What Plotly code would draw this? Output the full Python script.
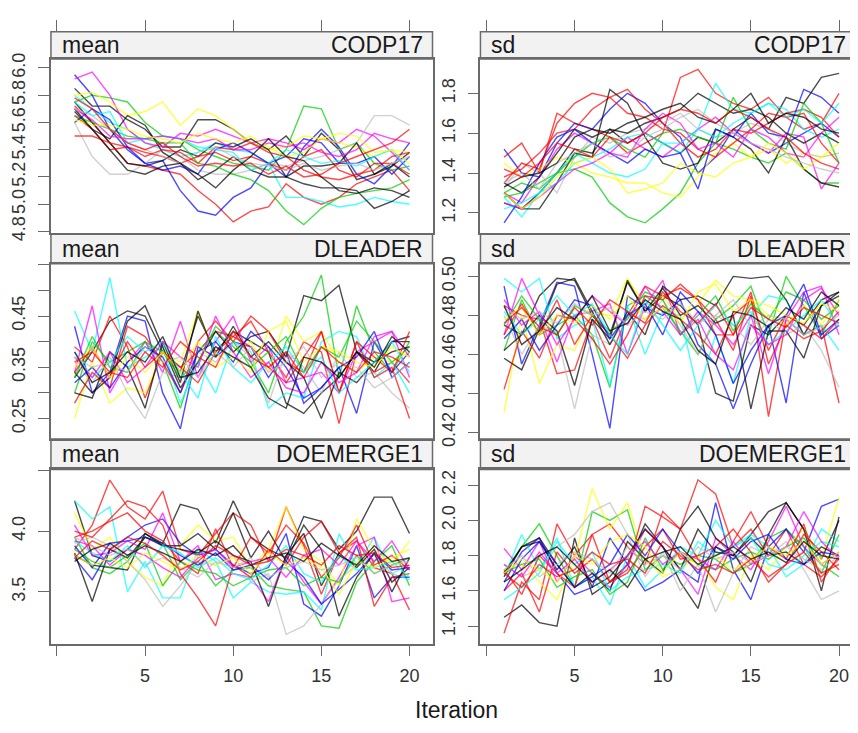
import plotly.graph_objects as go

# ---------------- data ----------------
ITER = list(range(1, 21))
X_TICKS = [0, 5, 10, 15, 20]
X_TICK_TEXT = ["", "5", "10", "15", "20"]

PALETTE = ["#000000", "#FF0000", "#00CD00", "#0000FF", "#00FFFF", "#FF00FF", "#FFFF00", "#BEBEBE"]
CHAIN_COLOR_INDEX = [0, 1, 2, 3, 4, 5, 6, 7, 0, 1, 0, 1, 2, 3, 4, 5, 6, 7, 0, 1]

STATS = ["mean", "sd"]
VARS = ["CODP17", "DLEADER", "DOEMERGE1"]

MEAN_CODP17 = [
    [5.85,5.72,5.72,5.62,5.55,5.42,5.42,5.62,5.62,5.55,5.45,5.40,5.50,5.35,5.52,5.40,5.18,5.22,5.30,5.20],
    [5.72,5.60,5.45,5.30,5.28,5.25,5.22,5.10,5.00,4.87,4.95,4.98,5.15,5.05,5.00,5.05,5.15,5.20,5.25,5.10],
    [5.75,5.80,5.78,5.75,5.60,5.50,5.48,5.40,5.35,5.30,5.28,5.25,5.40,5.72,5.70,5.40,5.45,5.30,5.25,5.28],
    [5.95,5.80,5.55,5.40,5.30,5.32,5.10,4.95,4.92,5.05,5.12,5.30,5.20,5.42,5.55,5.42,5.22,5.15,5.28,5.45],
    [5.80,5.70,5.60,5.55,5.45,5.40,5.35,5.38,5.45,5.40,5.38,5.30,5.05,5.05,5.02,4.98,5.00,5.05,5.02,5.00],
    [5.92,5.97,5.80,5.55,5.45,5.42,5.52,5.50,5.55,5.50,5.45,5.48,5.45,5.40,5.48,5.45,5.55,5.50,5.38,5.25],
    [5.80,5.82,5.75,5.65,5.68,5.75,5.58,5.70,5.65,5.55,5.45,5.40,5.42,5.50,5.48,5.45,5.42,5.35,5.40,5.38],
    [5.60,5.35,5.22,5.22,5.30,5.40,5.35,5.25,5.22,5.22,5.25,5.30,5.28,5.32,5.35,5.40,5.45,5.65,5.65,5.58],
    [5.75,5.60,5.45,5.30,5.28,5.32,5.40,5.35,5.45,5.42,5.48,5.40,5.20,5.15,5.12,5.12,5.10,4.97,5.02,5.10],
    [5.50,5.50,5.45,5.42,5.38,5.35,5.30,5.35,5.38,5.32,5.35,5.30,5.25,5.35,5.40,5.25,5.20,5.30,5.30,5.22],
    [5.70,5.55,5.48,5.65,5.58,5.38,5.30,5.18,5.25,5.35,5.25,5.20,5.20,5.28,5.28,5.30,5.45,5.22,5.28,5.38],
    [5.65,5.55,5.40,5.42,5.35,5.40,5.38,5.30,5.42,5.40,5.45,5.38,5.35,5.25,5.20,5.18,5.22,5.25,5.35,5.38],
    [5.65,5.60,5.55,5.50,5.48,5.45,5.45,5.30,5.28,5.22,5.18,5.10,4.95,4.85,4.97,5.05,5.08,5.10,5.12,5.18],
    [5.60,5.70,5.62,5.42,5.30,5.25,5.28,5.22,5.40,5.45,5.38,5.30,5.35,5.48,5.45,5.30,5.30,5.35,5.22,5.35],
    [5.75,5.65,5.68,5.45,5.48,5.50,5.48,5.42,5.40,5.38,5.25,5.30,5.40,5.35,5.30,5.32,5.28,5.35,5.40,5.25],
    [5.70,5.62,5.50,5.48,5.48,5.50,5.48,5.45,5.48,5.40,5.40,5.45,5.42,5.45,5.38,5.35,5.40,5.52,5.48,5.45],
    [5.62,5.58,5.58,5.55,5.50,5.48,5.45,5.52,5.48,5.45,5.50,5.42,5.35,5.38,5.48,5.52,5.50,5.38,5.40,5.30],
    [5.70,5.65,5.55,5.45,5.40,5.35,5.30,5.38,5.42,5.35,5.30,5.28,5.25,5.30,5.25,5.28,5.30,5.25,5.30,5.35],
    [5.68,5.55,5.40,5.25,5.22,5.28,5.30,5.22,5.12,5.25,5.35,5.48,5.35,5.32,5.20,5.10,5.08,5.12,5.10,5.05],
    [5.78,5.70,5.55,5.45,5.40,5.45,5.35,5.28,5.30,5.28,5.30,5.22,5.28,5.20,5.22,5.30,5.35,5.40,5.45,5.55],
]

SD_CODP17 = [
    [1.25,1.22,1.30,1.40,1.52,1.50,1.62,1.55,1.60,1.55,1.50,1.58,1.55,1.62,1.68,1.62,1.78,1.75,1.88,1.90],
    [1.48,1.55,1.40,1.70,1.65,1.62,1.58,1.50,1.55,1.60,1.88,1.92,1.80,1.75,1.72,1.78,1.68,1.62,1.65,1.80],
    [1.30,1.35,1.32,1.40,1.42,1.38,1.25,1.18,1.15,1.22,1.30,1.45,1.55,1.52,1.48,1.45,1.50,1.42,1.35,1.35],
    [1.52,1.40,1.38,1.55,1.65,1.62,1.72,1.80,1.75,1.65,1.58,1.40,1.48,1.62,1.55,1.50,1.55,1.60,1.65,1.58],
    [1.28,1.18,1.30,1.40,1.50,1.45,1.40,1.38,1.42,1.55,1.50,1.62,1.85,1.72,1.70,1.75,1.72,1.62,1.58,1.62],
    [1.30,1.25,1.38,1.52,1.60,1.55,1.50,1.58,1.52,1.48,1.55,1.62,1.68,1.60,1.55,1.50,1.60,1.58,1.32,1.45],
    [1.45,1.38,1.42,1.48,1.45,1.40,1.38,1.35,1.35,1.30,1.28,1.38,1.50,1.55,1.48,1.52,1.45,1.50,1.48,1.50],
    [1.32,1.45,1.40,1.30,1.48,1.58,1.55,1.60,1.62,1.65,1.70,1.62,1.58,1.60,1.65,1.62,1.55,1.50,1.48,1.50],
    [1.35,1.30,1.38,1.50,1.62,1.58,1.62,1.60,1.65,1.68,1.72,1.80,1.75,1.70,1.72,1.68,1.60,1.55,1.60,1.55],
    [1.38,1.42,1.50,1.60,1.62,1.72,1.78,1.82,1.72,1.65,1.55,1.48,1.52,1.62,1.60,1.65,1.70,1.72,1.68,1.58],
    [1.30,1.22,1.22,1.35,1.50,1.48,1.82,1.75,1.58,1.45,1.42,1.45,1.62,1.58,1.52,1.40,1.58,1.42,1.35,1.33],
    [1.35,1.45,1.42,1.65,1.75,1.80,1.78,1.70,1.68,1.62,1.60,1.52,1.48,1.55,1.62,1.70,1.68,1.70,1.55,1.45],
    [1.28,1.30,1.35,1.40,1.48,1.55,1.58,1.52,1.48,1.60,1.62,1.58,1.55,1.78,1.62,1.55,1.52,1.75,1.65,1.45],
    [1.15,1.28,1.45,1.58,1.62,1.55,1.50,1.45,1.52,1.48,1.50,1.32,1.62,1.58,1.70,1.60,1.58,1.82,1.78,1.70],
    [1.22,1.25,1.30,1.35,1.45,1.48,1.52,1.58,1.60,1.55,1.55,1.62,1.58,1.65,1.70,1.75,1.68,1.72,1.65,1.75],
    [1.25,1.22,1.28,1.35,1.42,1.45,1.50,1.48,1.62,1.70,1.65,1.52,1.55,1.48,1.62,1.58,1.50,1.48,1.60,1.68],
    [1.30,1.22,1.28,1.38,1.45,1.48,1.42,1.30,1.32,1.35,1.45,1.40,1.38,1.45,1.48,1.55,1.50,1.42,1.48,1.55],
    [1.35,1.40,1.32,1.45,1.50,1.55,1.48,1.50,1.58,1.62,1.68,1.72,1.65,1.60,1.55,1.52,1.48,1.45,1.42,1.40],
    [1.33,1.38,1.40,1.45,1.58,1.62,1.60,1.65,1.68,1.72,1.75,1.68,1.65,1.72,1.80,1.65,1.70,1.68,1.62,1.60],
    [1.42,1.38,1.45,1.55,1.52,1.48,1.58,1.55,1.60,1.68,1.72,1.70,1.65,1.72,1.68,1.62,1.58,1.50,1.45,1.42],
]

MEAN_DLEADER = [
    [0.33,0.38,0.44,0.46,0.45,0.38,0.34,0.45,0.38,0.42,0.40,0.38,0.28,0.26,0.30,0.33,0.38,0.34,0.40,0.41],
    [0.39,0.36,0.45,0.39,0.29,0.38,0.35,0.38,0.42,0.41,0.44,0.38,0.33,0.40,0.38,0.24,0.38,0.34,0.36,0.32],
    [0.30,0.40,0.36,0.38,0.40,0.36,0.27,0.38,0.42,0.39,0.36,0.30,0.40,0.45,0.53,0.33,0.47,0.38,0.34,0.40],
    [0.43,0.30,0.34,0.45,0.44,0.30,0.23,0.39,0.37,0.40,0.39,0.33,0.38,0.28,0.31,0.35,0.26,0.40,0.34,0.38],
    [0.46,0.38,0.525,0.35,0.37,0.39,0.28,0.36,0.30,0.40,0.38,0.27,0.30,0.29,0.40,0.42,0.41,0.33,0.36,0.30],
    [0.34,0.47,0.30,0.36,0.40,0.34,0.44,0.33,0.40,0.45,0.36,0.39,0.32,0.33,0.34,0.30,0.38,0.40,0.42,0.33],
    [0.25,0.36,0.28,0.31,0.30,0.38,0.36,0.46,0.37,0.38,0.40,0.34,0.45,0.40,0.42,0.36,0.34,0.37,0.36,0.38],
    [0.36,0.32,0.37,0.30,0.25,0.34,0.33,0.38,0.36,0.40,0.37,0.28,0.38,0.35,0.30,0.38,0.33,0.34,0.30,0.27],
    [0.34,0.30,0.33,0.44,0.47,0.39,0.31,0.36,0.42,0.38,0.41,0.42,0.37,0.49,0.48,0.51,0.38,0.36,0.38,0.39],
    [0.28,0.34,0.31,0.43,0.41,0.36,0.30,0.40,0.44,0.40,0.45,0.42,0.36,0.34,0.42,0.30,0.40,0.33,0.35,0.25],
    [0.30,0.29,0.38,0.35,0.27,0.40,0.32,0.46,0.37,0.43,0.37,0.40,0.36,0.33,0.25,0.34,0.32,0.36,0.40,0.40],
    [0.34,0.39,0.33,0.40,0.35,0.38,0.35,0.32,0.38,0.41,0.39,0.35,0.32,0.37,0.42,0.30,0.40,0.37,0.34,0.42],
    [0.33,0.41,0.35,0.34,0.40,0.38,0.33,0.36,0.43,0.40,0.35,0.38,0.41,0.34,0.39,0.37,0.44,0.40,0.36,0.39],
    [0.32,0.35,0.31,0.36,0.39,0.37,0.30,0.38,0.40,0.36,0.42,0.39,0.35,0.29,0.31,0.35,0.37,0.42,0.33,0.36],
    [0.38,0.33,0.36,0.41,0.38,0.40,0.34,0.29,0.41,0.35,0.32,0.36,0.39,0.34,0.37,0.30,0.33,0.36,0.40,0.34],
    [0.37,0.33,0.38,0.32,0.35,0.40,0.37,0.35,0.45,0.38,0.33,0.36,0.31,0.30,0.36,0.32,0.34,0.41,0.42,0.37],
    [0.35,0.39,0.33,0.37,0.34,0.38,0.34,0.40,0.35,0.37,0.34,0.42,0.44,0.36,0.39,0.38,0.36,0.35,0.39,0.37],
    [0.37,0.35,0.36,0.34,0.39,0.36,0.37,0.33,0.38,0.35,0.39,0.34,0.36,0.39,0.33,0.36,0.35,0.31,0.33,0.36],
    [0.38,0.32,0.34,0.38,0.36,0.41,0.33,0.34,0.39,0.37,0.35,0.29,0.27,0.37,0.36,0.33,0.38,0.35,0.41,0.38],
    [0.36,0.38,0.34,0.33,0.38,0.35,0.40,0.37,0.35,0.42,0.37,0.35,0.38,0.33,0.39,0.36,0.34,0.38,0.37,0.35],
]

SD_DLEADER = [
    [0.475,0.470,0.490,0.499,0.498,0.480,0.470,0.497,0.482,0.490,0.485,0.475,0.440,0.436,0.475,0.470,0.480,0.475,0.488,0.492],
    [0.485,0.480,0.478,0.450,0.452,0.478,0.458,0.480,0.495,0.490,0.494,0.488,0.478,0.462,0.490,0.428,0.478,0.470,0.475,0.435],
    [0.462,0.488,0.470,0.475,0.480,0.470,0.443,0.485,0.490,0.484,0.472,0.460,0.478,0.485,0.495,0.470,0.500,0.485,0.470,0.488],
    [0.495,0.455,0.475,0.497,0.495,0.460,0.422,0.490,0.484,0.480,0.488,0.465,0.455,0.432,0.455,0.475,0.435,0.492,0.468,0.475],
    [0.499,0.492,0.499,0.468,0.475,0.478,0.444,0.485,0.460,0.482,0.480,0.440,0.470,0.445,0.480,0.490,0.488,0.470,0.475,0.462],
    [0.470,0.499,0.480,0.456,0.480,0.482,0.486,0.460,0.485,0.498,0.470,0.482,0.475,0.465,0.480,0.450,0.478,0.492,0.495,0.470],
    [0.430,0.480,0.445,0.465,0.462,0.482,0.480,0.499,0.485,0.490,0.478,0.486,0.498,0.490,0.488,0.480,0.475,0.485,0.475,0.488],
    [0.480,0.460,0.475,0.470,0.432,0.470,0.465,0.480,0.478,0.488,0.475,0.460,0.480,0.475,0.465,0.478,0.470,0.475,0.462,0.443],
    [0.458,0.452,0.473,0.496,0.499,0.482,0.465,0.482,0.470,0.495,0.488,0.490,0.485,0.500,0.499,0.500,0.488,0.470,0.485,0.490],
    [0.442,0.472,0.458,0.480,0.478,0.468,0.455,0.470,0.490,0.488,0.496,0.488,0.470,0.470,0.492,0.455,0.475,0.468,0.472,0.482],
    [0.462,0.470,0.480,0.472,0.444,0.478,0.468,0.498,0.482,0.494,0.480,0.485,0.476,0.480,0.432,0.472,0.472,0.458,0.485,0.492],
    [0.470,0.486,0.470,0.488,0.465,0.480,0.470,0.458,0.475,0.485,0.478,0.470,0.460,0.480,0.488,0.462,0.480,0.475,0.468,0.478],
    [0.475,0.490,0.478,0.470,0.485,0.480,0.472,0.478,0.492,0.488,0.470,0.480,0.490,0.472,0.486,0.478,0.492,0.488,0.478,0.485],
    [0.468,0.478,0.462,0.475,0.488,0.485,0.468,0.480,0.486,0.470,0.492,0.482,0.470,0.445,0.462,0.475,0.480,0.496,0.470,0.478],
    [0.482,0.470,0.478,0.490,0.480,0.486,0.470,0.460,0.488,0.475,0.462,0.475,0.485,0.475,0.482,0.465,0.472,0.480,0.488,0.474],
    [0.488,0.475,0.482,0.465,0.478,0.490,0.482,0.475,0.495,0.482,0.470,0.478,0.460,0.452,0.475,0.465,0.470,0.488,0.494,0.480],
    [0.478,0.484,0.470,0.480,0.476,0.485,0.478,0.490,0.478,0.484,0.476,0.492,0.496,0.482,0.488,0.485,0.480,0.476,0.486,0.482],
    [0.484,0.478,0.482,0.476,0.486,0.480,0.484,0.475,0.482,0.478,0.486,0.476,0.480,0.488,0.474,0.480,0.478,0.470,0.474,0.480],
    [0.485,0.465,0.472,0.484,0.478,0.490,0.472,0.476,0.488,0.482,0.478,0.462,0.455,0.482,0.480,0.474,0.484,0.478,0.492,0.485],
    [0.476,0.484,0.474,0.470,0.484,0.475,0.488,0.482,0.476,0.492,0.482,0.476,0.486,0.470,0.484,0.478,0.474,0.484,0.480,0.476],
]

MEAN_DOEMERGE1 = [
    [4.25,3.80,3.75,3.85,3.98,3.90,4.22,4.18,3.90,4.25,3.95,3.85,3.78,4.12,4.08,3.85,4.00,4.28,4.28,3.98],
    [3.85,4.05,4.42,4.20,4.10,4.33,3.85,3.80,3.98,4.15,4.05,3.75,4.20,3.88,3.48,3.82,3.92,3.70,3.65,3.35],
    [3.95,3.70,3.65,3.75,3.95,3.90,3.60,3.75,3.55,3.68,3.70,3.55,3.52,3.50,3.22,3.20,3.58,3.75,3.88,3.55],
    [3.78,3.60,3.85,3.95,4.05,4.10,3.90,3.80,3.85,3.72,3.65,3.70,3.98,3.40,3.30,3.55,3.88,3.45,3.62,3.62],
    [4.25,4.10,4.20,3.50,3.75,3.45,3.45,3.85,3.75,3.45,3.58,3.50,3.48,3.50,3.35,3.98,3.72,3.95,3.65,3.60],
    [4.05,3.80,3.82,3.92,3.85,4.15,3.75,3.88,3.60,3.65,3.62,3.42,3.80,3.58,3.40,3.62,3.88,3.95,3.42,3.45],
    [4.15,3.85,3.95,3.75,3.62,3.55,3.88,4.05,3.92,3.95,3.70,3.85,4.20,3.85,3.75,3.55,4.10,3.85,3.72,3.92],
    [3.90,3.95,3.88,3.75,3.60,3.38,3.55,3.75,3.72,3.80,3.58,3.65,3.15,3.22,3.40,3.60,3.72,3.80,3.65,3.72],
    [3.82,3.42,3.85,3.78,3.95,3.88,3.88,3.98,3.85,4.15,3.78,4.00,3.75,4.05,3.85,3.30,3.62,3.82,3.50,3.78],
    [4.00,3.95,4.10,4.25,4.20,4.05,3.65,3.45,3.22,3.72,3.62,3.85,3.72,3.95,4.08,3.82,3.95,3.38,3.62,3.65],
    [3.80,3.72,3.70,3.68,3.98,3.88,3.85,3.82,3.92,3.80,3.75,3.38,3.80,3.98,3.55,3.82,3.70,3.85,3.58,3.70],
    [3.95,4.00,4.08,4.15,4.00,3.92,3.75,3.65,4.02,3.70,3.95,3.82,4.05,3.90,3.62,3.78,4.05,3.72,3.80,3.68],
    [3.85,3.75,3.70,3.80,3.90,3.55,3.75,3.68,3.65,3.55,3.62,3.68,3.70,3.55,3.62,3.58,3.80,3.65,3.72,3.78],
    [3.88,3.70,3.90,3.92,3.95,3.90,3.80,3.72,3.82,3.68,3.72,3.60,3.75,3.62,3.40,3.52,3.65,3.82,3.68,3.70],
    [3.92,3.82,3.75,3.88,3.70,3.88,3.82,3.70,3.78,3.65,3.60,3.72,3.88,3.65,3.58,3.80,3.68,3.70,3.75,3.62],
    [3.92,3.88,3.72,3.85,3.80,3.70,3.62,3.78,3.85,3.70,3.75,3.78,3.62,3.80,3.85,3.72,3.92,3.75,3.92,3.68],
    [3.80,3.72,3.78,3.70,3.82,3.75,3.68,3.80,3.72,3.78,3.65,3.82,3.72,3.78,3.70,3.48,3.75,3.70,3.78,3.85],
    [3.95,3.88,3.80,3.85,3.72,3.78,3.70,3.62,3.75,3.70,3.78,3.62,3.70,3.75,3.68,3.72,3.78,3.65,3.72,3.75],
    [3.75,3.85,3.90,3.80,3.88,3.82,3.75,3.85,3.80,3.88,3.72,3.78,3.82,3.75,3.90,3.80,3.72,3.88,3.75,3.78],
    [3.78,3.92,3.85,3.95,3.90,3.80,3.68,3.75,3.88,3.80,3.72,3.75,3.85,3.80,3.72,3.88,3.80,3.82,3.70,3.72],
]

SD_DOEMERGE1 = [
    [1.45,1.52,1.42,1.40,1.90,1.58,1.65,1.75,1.98,1.85,1.65,1.50,1.85,1.80,1.92,2.05,2.10,1.95,1.78,2.00],
    [1.36,1.65,1.55,1.98,1.80,1.92,1.98,1.85,1.75,2.05,1.95,2.23,2.15,1.85,1.95,1.80,1.95,1.75,1.68,1.78],
    [1.70,1.85,1.98,1.80,1.62,2.05,2.00,2.06,1.72,1.80,1.75,1.80,1.78,1.70,1.75,1.90,1.95,1.85,1.70,1.92],
    [1.65,1.82,1.90,1.70,1.58,1.62,1.90,1.75,1.60,1.65,1.72,1.65,2.10,1.72,1.55,1.85,1.95,1.82,2.08,2.12],
    [1.68,1.92,1.72,1.90,1.62,1.68,1.52,1.80,1.62,1.72,1.85,1.80,2.00,1.85,1.92,1.85,1.68,1.75,1.95,1.88],
    [1.84,1.72,1.88,1.65,1.80,1.70,1.62,1.75,1.95,1.85,1.72,1.58,1.90,1.80,1.72,1.88,2.08,1.85,1.75,1.82],
    [1.72,1.75,1.65,1.55,1.78,2.18,1.95,2.10,1.78,1.68,1.72,1.80,1.62,1.55,1.80,1.72,1.85,1.95,1.78,2.13],
    [1.75,1.68,1.72,1.85,1.92,2.05,2.10,1.92,1.68,1.82,1.60,1.75,1.48,1.70,1.85,1.80,1.88,1.72,1.55,1.60],
    [1.68,1.85,1.90,1.75,1.62,1.70,1.60,1.88,1.78,1.70,1.95,2.08,1.90,1.82,1.65,1.92,2.10,1.95,1.60,2.02],
    [1.60,1.70,1.48,1.82,1.70,1.78,1.65,1.72,2.08,2.02,1.95,1.78,1.65,1.88,2.05,1.85,1.78,1.98,1.65,1.80],
    [1.70,1.85,1.88,1.72,1.85,1.62,1.68,1.80,1.95,1.85,1.72,1.95,1.82,1.80,1.90,1.80,1.82,1.75,1.85,1.80],
    [1.72,1.58,1.80,1.70,1.62,1.92,1.65,1.70,1.85,1.95,1.78,1.80,1.85,1.95,1.82,1.65,1.75,1.92,1.82,1.72],
    [1.70,1.75,1.78,1.62,1.68,1.72,1.58,1.65,1.90,1.72,1.82,1.75,1.72,1.78,1.82,1.78,1.85,1.90,1.75,1.68],
    [1.60,1.78,1.88,1.75,1.62,1.68,1.75,1.92,1.80,1.95,1.82,1.70,1.85,1.78,1.88,1.92,1.78,1.75,1.82,1.80],
    [1.55,1.62,1.70,1.88,1.75,1.82,1.60,1.68,1.72,1.75,1.70,1.88,1.80,1.85,1.90,1.75,1.72,1.80,1.88,1.85],
    [1.75,1.68,1.82,1.70,1.78,1.65,1.72,1.80,1.88,1.75,1.82,1.78,1.72,1.88,1.75,1.80,1.85,2.05,1.88,1.78],
    [1.70,1.78,1.72,1.65,1.80,1.75,1.88,1.92,1.85,1.70,1.82,1.75,1.80,1.72,1.78,1.85,1.80,1.88,1.75,1.82],
    [1.72,1.80,1.68,1.75,1.82,1.78,1.70,1.85,1.75,1.80,1.72,1.85,1.78,1.82,1.76,1.80,1.85,1.78,1.72,1.80],
    [1.65,1.72,1.80,1.85,1.75,1.65,1.72,1.62,1.78,1.82,1.85,1.75,1.80,1.85,1.78,1.82,1.76,1.88,1.80,1.78],
    [1.70,1.62,1.75,1.68,1.72,1.82,1.75,1.78,1.70,1.88,1.80,1.72,1.75,1.70,1.78,1.68,1.75,1.82,1.70,1.75],
]

PANEL_DATA = [MEAN_CODP17, SD_CODP17, MEAN_DLEADER, SD_DLEADER, MEAN_DOEMERGE1, SD_DOEMERGE1]

Y_RANGES = [[4.786, 6.065], [1.097, 1.972], [0.210, 0.552], [0.4165, 0.5065], [3.073, 4.508], [1.300, 2.289]]
Y_TICKS = [
    [4.8, 5.0, 5.2, 5.4, 5.6, 5.8, 6.0],
    [1.2, 1.4, 1.6, 1.8],
    [0.25, 0.30, 0.35, 0.40, 0.45, 0.50, 0.55],
    [0.42, 0.44, 0.46, 0.48, 0.50],
    [3.5, 4.0, 4.5],
    [1.4, 1.6, 1.8, 2.0, 2.2],
]
Y_TICK_TEXT = [
    ["4.8", "5.0", "5.2", "5.4", "5.6", "5.8", "6.0"],
    ["1.2", "1.4", "1.6", "1.8"],
    ["0.25", "", "0.35", "", "0.45", "", ""],
    ["0.42", "0.44", "0.46", "0.48", "0.50"],
    ["3.5", "4.0", ""],
    ["1.4", "1.6", "1.8", "2.0", "2.2"],
]

# ---------------- layout geometry (window pixels) ----------------
WIN_W, WIN_H = 858, 733
PAGE_OFFSET = 8                      # default body margin of the html page
W, H = WIN_W - PAGE_OFFSET, WIN_H - PAGE_OFFSET
COL_PX = [(51, 433), (481, 857)]
PX_PER_ITER = 17.65
X_ZERO_PX = [57, 487]
PANEL_PX = [(53, 231), (262, 441), (472, 650)]
STRIP_PX = [(25, 53), (232, 262), (441, 472)]
AX_COLOR = "#6a6a6a"
FONT = "Liberation Sans, Arial, sans-serif"
RIGHT_LIMIT = PAGE_OFFSET + W


def fx(px):
    return (min(px, RIGHT_LIMIT) - PAGE_OFFSET) / W


def fy(py):
    return 1 - (py - PAGE_OFFSET) / H


def xrange_for(c):
    left, right = COL_PX[c][0], min(COL_PX[c][1], RIGHT_LIMIT)
    return [(left - X_ZERO_PX[c]) / PX_PER_ITER, (right - X_ZERO_PX[c]) / PX_PER_ITER]


fig = go.Figure()
layout = {}
annotations = []
shapes = []

for p in range(6):
    r, c = divmod(p, 2)
    n = p + 1
    xname = "x" if n == 1 else f"x{n}"
    yname = "y" if n == 1 else f"y{n}"
    for k, vals in enumerate(PANEL_DATA[p]):
        fig.add_trace(go.Scatter(
            x=ITER, y=vals, mode="lines",
            line=dict(color=PALETTE[CHAIN_COLOR_INDEX[k]], width=1.4),
            opacity=0.7, xaxis=xname, yaxis=yname,
            showlegend=False, hoverinfo="skip",
        ))
    bottom = (r == 2)
    layout["xaxis" if n == 1 else f"xaxis{n}"] = dict(
        domain=[fx(COL_PX[c][0]), fx(COL_PX[c][1])],
        range=xrange_for(c), anchor=yname,
        showgrid=False, zeroline=False,
        showline=True, linecolor=AX_COLOR, linewidth=1.5, mirror=True,
        ticks="outside" if bottom else "", ticklen=11, tickwidth=1.3, tickcolor=AX_COLOR,
        tickvals=X_TICKS, ticktext=X_TICK_TEXT, showticklabels=bottom,
        tickfont=dict(family=FONT, size=18, color="#333333"),
        ticklabelstandoff=4,
    )
    layout["yaxis" if n == 1 else f"yaxis{n}"] = dict(
        domain=[fy(PANEL_PX[r][1]), fy(PANEL_PX[r][0])],
        range=Y_RANGES[p], anchor=xname,
        showgrid=False, zeroline=False,
        showline=True, linecolor=AX_COLOR, linewidth=1.5, mirror=True,
        ticks="outside", ticklen=11, tickwidth=1.3, tickcolor=AX_COLOR,
        tickvals=Y_TICKS[p], ticktext=Y_TICK_TEXT[p], tickangle=-90,
        tickfont=dict(family=FONT, size=18, color="#333333"),
        ticklabelstandoff=6,
    )
    # strip
    s0, s1 = STRIP_PX[r]
    shapes.append(dict(type="rect", xref="paper", yref="paper",
                       x0=fx(COL_PX[c][0]), x1=fx(COL_PX[c][1]), y0=fy(s1), y1=fy(s0),
                       fillcolor="#f2f2f2", line=dict(color=AX_COLOR, width=1.5), layer="below"))
    ymid = fy((s0 + s1) / 2)
    annotations.append(dict(text=STATS[c], x=fx(COL_PX[c][0] + 9), y=ymid, xref="paper", yref="paper",
                            xanchor="left", yanchor="middle", showarrow=False,
                            font=dict(family=FONT, size=23, color="#1a1a1a")))
    annotations.append(dict(text=VARS[r], x=fx(COL_PX[c][1] - 8), y=ymid, xref="paper", yref="paper",
                            xanchor="right", yanchor="middle", showarrow=False,
                            font=dict(family=FONT, size=23, color="#1a1a1a")))

# top ticks above the first row of strips
for c in range(2):
    n = 7 + c
    base = "x" if c == 0 else "x2"
    layout[f"xaxis{n}"] = dict(
        overlaying=base, anchor="free", position=fy(STRIP_PX[0][0]), side="top",
        range=xrange_for(c), showgrid=False, zeroline=False, showline=False,
        ticks="outside", ticklen=12, tickwidth=1.3, tickcolor=AX_COLOR,
        tickvals=X_TICKS, showticklabels=False,
    )
    fig.add_trace(go.Scatter(x=[None], y=[None], xaxis=f"x{n}", yaxis="y" if c == 0 else "y2",
                             showlegend=False, hoverinfo="skip"))

annotations.append(dict(text="Iteration", x=fx(457), y=fy(718), xref="paper", yref="paper",
                        xanchor="center", yanchor="middle", showarrow=False,
                        font=dict(family=FONT, size=23, color="#1a1a1a")))

fig.update_layout(
    width=W, height=H,
    margin=dict(l=0, r=0, t=0, b=0),
    paper_bgcolor="white", plot_bgcolor="white",
    annotations=annotations, shapes=shapes,
    **layout,
)

fig.write_html("out.html")
